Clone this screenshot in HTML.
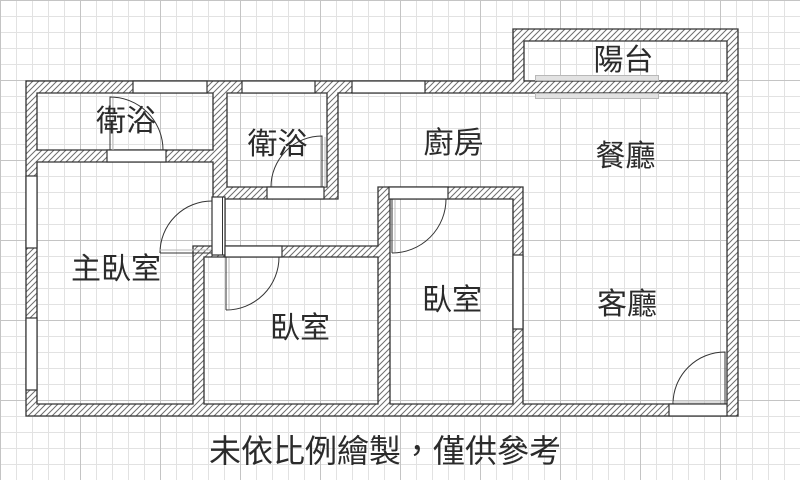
<!DOCTYPE html>
<html lang="zh-TW">
<head>
<meta charset="utf-8">
<style>
  html,body{margin:0;padding:0;background:#fff;}
  body{width:800px;height:480px;overflow:hidden;}
  svg{display:block;}
  text{font-family:"Liberation Sans","Noto Sans CJK TC","Noto Sans CJK SC",sans-serif;fill:#2b2b2b;}
</style>
</head>
<body>
<svg width="800" height="480" viewBox="0 0 800 480" xmlns="http://www.w3.org/2000/svg" lang="zh-TW">
  <defs>
    <pattern id="gmin" width="16" height="16" patternUnits="userSpaceOnUse">
      <path d="M0.5 0 V16 M0 0.5 H16" stroke="#e2e2e2" stroke-width="1" fill="none"/>
    </pattern>
    <pattern id="gmaj" width="80" height="80" patternUnits="userSpaceOnUse">
      <path d="M0.5 0 V80 M0 0.5 H80" stroke="#c4c4c4" stroke-width="1" fill="none"/>
    </pattern>
    <pattern id="hatch" width="6" height="6" patternUnits="userSpaceOnUse">
      <rect width="6" height="6" fill="#fff"/>
      <path d="M-1 7 L7 -1 M-1 1 L1 -1 M5 7 L7 5" stroke="#6e6e6e" stroke-width="1"/>
    </pattern>
  </defs>

  <!-- grid -->
  <rect width="800" height="480" fill="#fff"/>
  <rect width="800" height="480" fill="url(#gmin)"/>
  <rect width="800" height="480" fill="url(#gmaj)"/>

  <!-- walls (outer minus rooms) -->
  <path fill="url(#hatch)" fill-rule="evenodd" stroke="#333" stroke-width="1.3" d="
    M26,81 H513 V29 H738 V416 H26 Z
    M524,41 H727 V81 H524 Z
    M37,93 H213 V150 H37 Z
    M227,93 H327 V187 H227 Z
    M37,162 H213 V246 H193 V404 H37 Z
    M204,257 H378 V404 H204 Z
    M390,199 H513 V404 H390 Z
    M338,93 H727 V404 H523 V187 H378 V246 H225 V199 H338 Z"/>

  <!-- windows / openings -->
  <g fill="#fff" stroke="#333" stroke-width="1.2">
    <rect x="133" y="81" width="74" height="12"/>
    <rect x="242" y="81" width="73" height="12"/>
    <rect x="352" y="81" width="73" height="12"/>
    <rect x="26" y="176" width="11" height="72"/>
    <rect x="26" y="318" width="11" height="72"/>
    <rect x="513" y="255" width="10" height="74"/>
    <!-- door openings -->
    <rect x="107" y="150" width="59" height="12"/>
    <rect x="267" y="187" width="57" height="12"/>
    <rect x="212" y="197" width="13" height="58"/>
    <rect x="225" y="246" width="57" height="11"/>
    <rect x="389" y="187" width="59" height="12"/>
    <rect x="669" y="404" width="58" height="12"/>
  </g>
  <line x1="222.5" y1="197" x2="222.5" y2="255" stroke="#333" stroke-width="1"/>

  <!-- sliding door -->
  <g fill="#e2e2e2" stroke="#b8b8b8" stroke-width="1">
    <rect x="535.5" y="75.5" width="123" height="5"/>
    <rect x="535.5" y="93.5" width="123" height="5"/>
  </g>

  <!-- door swings -->
  <g fill="none" stroke="#333" stroke-width="1">
    <path d="M110,150 V97 A53,53 0 0 1 163,150"/>
    <path d="M322,187 V136 A51,51 0 0 0 271,187"/>
    <path d="M160,253 H212 M212,201 A52,52 0 0 0 160,253"/>
    <path d="M226,257 V310 M279,257 A53,53 0 0 1 226,310"/>
    <path d="M392,199 V253 M446,199 A54,54 0 0 1 392,253"/>
    <path d="M725,404 V352 A52,52 0 0 0 673,404"/>
  </g>
  <g fill="none" stroke="#bbb" stroke-width="1">
    <line x1="113" y1="150" x2="113" y2="98"/>
    <line x1="325" y1="187" x2="325" y2="137"/>
    <line x1="160" y1="250" x2="211" y2="250"/>
    <line x1="229" y1="258" x2="229" y2="309"/>
    <line x1="395" y1="200" x2="395" y2="252"/>
    <line x1="673" y1="402" x2="724" y2="402"/>
  </g>

  <!-- labels -->
  <g font-size="30" text-anchor="middle">
    <text x="126" y="131">衛浴</text>
    <text x="277.5" y="154">衛浴</text>
    <text x="116" y="279">主臥室</text>
    <text x="300" y="338">臥室</text>
    <text x="452" y="310">臥室</text>
    <text x="627" y="314">客廳</text>
    <text x="453.5" y="153">廚房</text>
    <text x="625.5" y="166">餐廳</text>
    <text x="623.5" y="70">陽台</text>
  </g>
  <text x="385" y="462" font-size="32" text-anchor="middle">未依比例繪製，僅供參考</text>
</svg>
</body>
</html>
